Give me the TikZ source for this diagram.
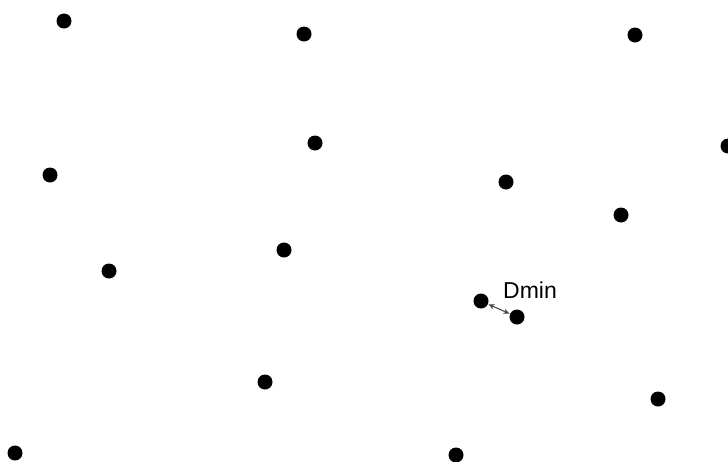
\documentclass[tikz,border=0pt]{standalone}
\usepackage{fontspec}
\setmainfont{Liberation Sans}
\usetikzlibrary{arrows.meta}
\begin{document}
\begin{tikzpicture}[x=1pt,y=-1pt,
  pt/.style={circle,fill=black,inner sep=0pt,minimum size=15pt},
  dist/.style={{Stealth[length=6pt,width=5pt]}-{Stealth[length=6pt,width=5pt]},line width=1pt,black!75,shorten <=0.5pt,shorten >=0.5pt}]
\useasboundingbox (0,0) rectangle (728,461);
\node[pt] (p1) at (64,21) {};
\node[pt] (p2) at (304,34) {};
\node[pt] (p3) at (635,35) {};
\node[pt] (p4) at (315,143) {};
\node[pt] (p5) at (50,175) {};
\node[pt] (p6) at (506,182) {};
\node[pt] (p7) at (728,146) {};
\node[pt] (p8) at (621,215) {};
\node[pt] (p9) at (284,250) {};
\node[pt] (p10) at (109,271) {};
\node[pt] (a) at (481,301) {};
\node[pt] (b) at (517,317) {};
\node[pt] (p13) at (265,382) {};
\node[pt] (p14) at (658,399) {};
\node[pt] (p15) at (15,453) {};
\node[pt] (p16) at (456,455) {};
\draw[dist] (a) -- (b);
\node[font=\fontsize{23}{26}\selectfont,anchor=base west,inner sep=0pt] (lbl) at (503,298) {Dmin};
\end{tikzpicture}
\end{document}
